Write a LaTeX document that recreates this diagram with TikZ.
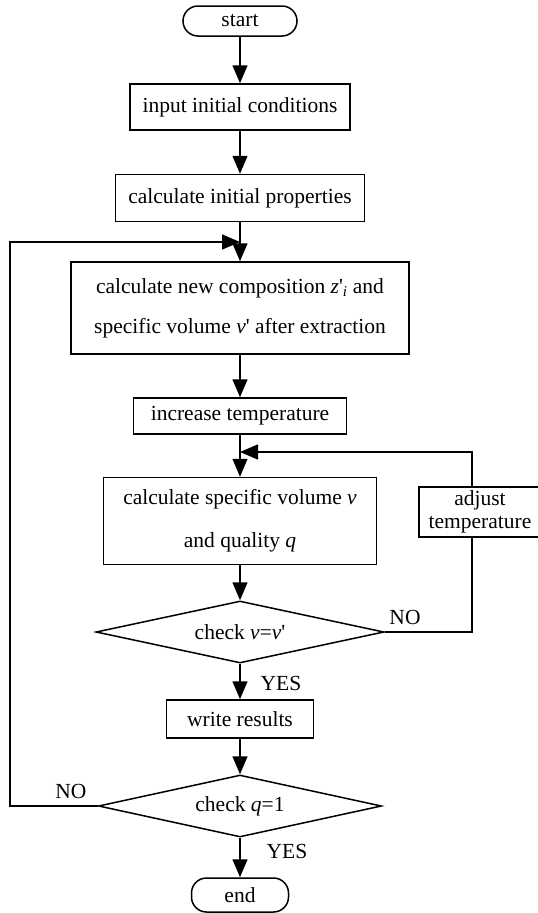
\documentclass[tikz,border=0pt]{standalone}
\usepackage{fontspec}
\setmainfont{Liberation Serif}
\usetikzlibrary{shapes.geometric,arrows.meta}
\begin{document}
\begin{tikzpicture}[x=1pt,y=-1pt,
  every node/.style={font=\fontsize{21.5}{25}\selectfont},
  box/.style={draw,line width=1.5pt,inner sep=0pt,align=center},
  term/.style={box,rounded corners=15pt},
  dec/.style={draw,line width=1.5pt,diamond,inner sep=0pt,aspect=4.6},
  arr/.style={line width=1.5pt,-{Triangle[length=18pt,width=15pt]}},
  ln/.style={line width=1.5pt},
  lbl/.style={inner sep=0pt}]
\useasboundingbox (0,0) rectangle (538,913);
\node[term,minimum width=114pt,minimum height=30pt] (start) at (240,21) {start};
\node[box,minimum width=220pt,minimum height=46pt] (input) at (240,107) {input initial conditions};
\node[box,minimum width=249pt,minimum height=47pt] (cinit) at (240,198) {calculate initial properties};
\coordinate (j1) at (240,242);
\node[box,minimum width=338pt,minimum height=92pt,font=\fontsize{21.5}{40}\selectfont] (newc) at (240,308)
  {calculate new composition \textit{z}\textquotesingle\textsubscript{\textit{i}} and\\specific volume \textit{v}\textquotesingle\ after extraction};
\node[box,minimum width=213pt,minimum height=36pt] (incr) at (240,416) {increase temperature};
\coordinate (j2) at (240,452);
\node[box,minimum width=273pt,minimum height=87pt,font=\fontsize{21.5}{43}\selectfont] (cspec) at (240,521)
  {calculate specific volume \textit{v}\\and quality \textit{q}};
\node[dec,minimum width=288pt,minimum height=62pt] (d1) at (240,632) {check \textit{v}=\textit{v}\textquotesingle};
\node[box,minimum width=122pt,minimum height=50pt,font=\fontsize{21.5}{23}\selectfont] (adj) at (480,512) {adjust\\temperature};
\node[box,minimum width=147pt,minimum height=38pt] (write) at (240,719) {write results};
\node[dec,minimum width=283pt,minimum height=62pt] (d2) at (240,806) {check \textit{q}=1};
\node[term,minimum width=97pt,minimum height=34pt] (end) at (240,895) {end};
\coordinate (lp) at (10,242);
\node[lbl] (no1) at (405,617) {NO};
\node[lbl] (yes1) at (281,683) {YES};
\node[lbl] (no2) at (71,791) {NO};
\node[lbl] (yes2) at (287,851) {YES};
\draw[arr] (start.south) -- (input.north);
\draw[arr] (input.south) -- (cinit.north);
\draw[ln] (cinit.south) -- (j1);
\draw[arr] (j1) -- (newc.north);
\draw[arr] (d2.west) -| (lp) -- (j1);
\draw[arr] (newc.south) -- (incr.north);
\draw[ln] (incr.south) -- (j2);
\draw[arr] (j2) -- (cspec.north);
\draw[arr] (cspec.south) -- (d1.north);
\draw[ln] (d1.east) -| ([xshift=-8pt]adj.south);
\draw[arr] ([xshift=-8pt]adj.north) |- (j2);
\draw[arr] (d1.south) -- (write.north);
\draw[arr] (write.south) -- (d2.north);
\draw[arr] (d2.south) -- (end.north);
\end{tikzpicture}
\end{document}
